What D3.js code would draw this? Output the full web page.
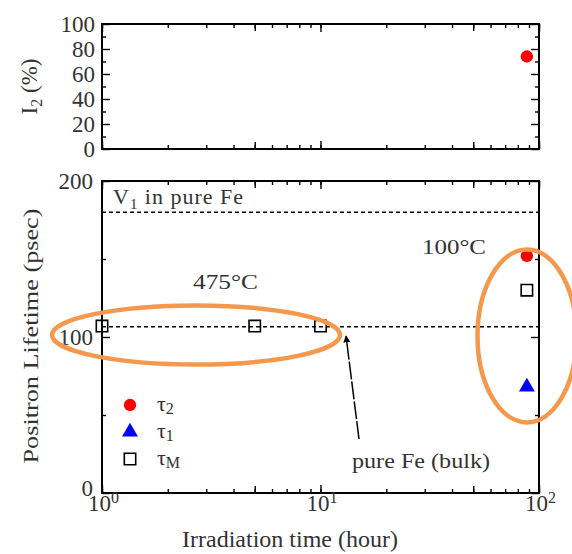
<!DOCTYPE html>
<html>
<head>
<meta charset="utf-8">
<script src="https://cdn.jsdelivr.net/npm/d3@7"></script>
<style>
  body { margin: 0; background: #fff; }
</style>
</head>
<body>
<div id="chart"></div>
<script>
// irradiation times (hour)
const times475 = [1, 5, 10];
const tauM475 = [107, 107, 107];
const times100 = [88];
const tau2_100 = [152];
const tau1_100 = [68];
const tauM100 = [130];
const I2_100 = [74];
// reference lines (psec)
const bulkFe = 106.5;
const v1Fe = 180;
const decades = [1, 10, 100];
const legendItems = ["tau2", "tau1", "tauM"];

const W = 572, H = 554;
const FONT = "Liberation Serif";
const svg = d3.select("#chart").append("svg")
  .attr("width", W).attr("height", H)
  .attr("font-family", FONT)
  .attr("fill", "#333");

const orange = "#f5984c";

// scales
const xTop = d3.scaleLog().domain([1, 100]).range([102, 539]);
const yTop = d3.scaleLinear().domain([0, 100]).range([149, 24]);
const xBot = d3.scaleLog().domain([1, 100]).range([102, 539]);
const yBot = d3.scaleLinear().domain([0, 200]).range([493, 181]);

// all log ticks 1..100
const minorVals = [];
for (let d = 1; d < 100; d *= 10)
  for (let k = 1; k <= 9; k++) minorVals.push(k * d);
minorVals.push(100);
const midVals = [5, 50];

function drawTicks(g, axisFn, scale, vals, len) {
  g.append("g").call(axisFn(scale).tickValues(vals).tickSize(-len).tickFormat(""))
    .call(s => s.select(".domain").remove())
    .selectAll("line").attr("stroke", "#000").attr("stroke-width", 1.4);
}

function frame(xs, ys, yMinor, yMajor) {
  const [x0, x1] = xs.range();
  const [y0, y1] = ys.range(); // y0 bottom, y1 top
  const g = svg.append("g");
  const gb = g.append("g").attr("transform", `translate(0,${y0})`);
  drawTicks(gb, d3.axisBottom, xs, minorVals, 4);
  drawTicks(gb, d3.axisBottom, xs, midVals, 7);
  drawTicks(gb, d3.axisBottom, xs, decades, 8);
  const gt = g.append("g").attr("transform", `translate(0,${y1})`);
  drawTicks(gt, d3.axisTop, xs, minorVals, 4);
  drawTicks(gt, d3.axisTop, xs, midVals, 7);
  drawTicks(gt, d3.axisTop, xs, decades, 8);
  const gl = g.append("g").attr("transform", `translate(${x0},0)`);
  drawTicks(gl, d3.axisLeft, ys, yMinor, 4);
  drawTicks(gl, d3.axisLeft, ys, yMajor, 8);
  const gr = g.append("g").attr("transform", `translate(${x1},0)`);
  drawTicks(gr, d3.axisRight, ys, yMinor, 4);
  drawTicks(gr, d3.axisRight, ys, yMajor, 8);
  g.append("rect")
    .attr("x", x0).attr("y", y1)
    .attr("width", x1 - x0).attr("height", y0 - y1)
    .attr("fill", "none").attr("stroke", "#000").attr("stroke-width", 2);
  return g;
}

function txt(x, y, size) {
  return svg.append("text").attr("x", x).attr("y", y)
    .attr("font-family", FONT).attr("font-size", size);
}

// ---------- top panel: I2 ----------
const topMajor = d3.range(0, 101, 20);
const topMinor = d3.range(10, 100, 20);
frame(xTop, yTop, topMinor, topMajor);

svg.append("g").selectAll("text")
  .data(topMajor).join("text")
  .attr("x", 95).attr("y", d => yTop(d))
  .attr("dy", "0.35em")
  .attr("text-anchor", "end")
  .attr("font-family", FONT)
  .attr("font-size", 23)
  .text(d => d);

const i2Label = svg.append("text")
  .attr("transform", `translate(37,${(yTop(0) + yTop(100)) / 2}) rotate(-90)`)
  .attr("text-anchor", "middle")
  .attr("font-family", FONT)
  .attr("font-size", 23);
i2Label.append("tspan").text("I");
i2Label.append("tspan").attr("dy", 5).attr("font-size", 16).text("2");
i2Label.append("tspan").attr("dy", -5).text(" (%)");

// ---------- bottom panel: lifetimes ----------
const botMajor = [0, 100, 200];
const botMinor = [50, 150];
frame(xBot, yBot, botMinor, botMajor);

// reference dashed lines
svg.append("g").selectAll("line")
  .data([bulkFe, v1Fe]).join("line")
  .attr("x1", xBot(1)).attr("x2", xBot(100))
  .attr("y1", d => yBot(d)).attr("y2", d => yBot(d))
  .attr("stroke", "#000").attr("stroke-width", 1.5)
  .attr("stroke-dasharray", "4,3");

svg.append("g").selectAll("text")
  .data(botMajor).join("text")
  .attr("x", 93).attr("y", d => yBot(d) - (d === 0 ? 5 : 0))
  .attr("dy", "0.35em")
  .attr("text-anchor", "end")
  .attr("font-family", FONT)
  .attr("font-size", 23)
  .text(d => d);

// x tick labels 10^n
const xl = svg.append("g").selectAll("text")
  .data(decades).join("text")
  .attr("x", d => xBot(d) - 14).attr("y", 511)
  .attr("font-family", FONT)
  .attr("font-size", 23);
xl.append("tspan").text("10");
xl.append("tspan").attr("dy", -8).attr("font-size", 16).text(d => Math.round(Math.log10(d)));

txt(290, 547, 23)
  .attr("text-anchor", "middle")
  .attr("textLength", 216).attr("lengthAdjust", "spacingAndGlyphs")
  .text("Irradiation time (hour)");

svg.append("text")
  .attr("transform", `translate(38,336) rotate(-90)`)
  .attr("text-anchor", "middle")
  .attr("textLength", 255).attr("lengthAdjust", "spacingAndGlyphs")
  .attr("font-family", FONT)
  .attr("font-size", 22)
  .text("Positron Lifetime (psec)");

// annotations
const v1 = txt(113, 204, 22)
  .attr("textLength", 130).attr("lengthAdjust", "spacing");
v1.append("tspan").text("V");
v1.append("tspan").attr("dy", 5).attr("font-size", 15).text("1");
v1.append("tspan").attr("dy", -5).text(" in pure Fe");

txt(193, 289, 22)
  .attr("textLength", 65).attr("lengthAdjust", "spacingAndGlyphs")
  .text("475°C");
txt(422, 254, 22)
  .attr("textLength", 64).attr("lengthAdjust", "spacingAndGlyphs")
  .text("100°C");
txt(352, 468, 21)
  .attr("textLength", 138).attr("lengthAdjust", "spacingAndGlyphs")
  .text("pure Fe (bulk)");

// arrow to bulk line
svg.append("defs").append("marker")
  .attr("id", "ah").attr("viewBox", "0 0 10 10")
  .attr("refX", 9).attr("refY", 5)
  .attr("markerWidth", 7).attr("markerHeight", 9)
  .attr("markerUnits", "userSpaceOnUse")
  .attr("orient", "auto")
  .append("path").attr("d", "M0,0L10,5L0,10Z").attr("fill", "#000");
svg.append("line")
  .attr("x1", 359).attr("y1", 439)
  .attr("x2", 346).attr("y2", 336)
  .attr("stroke", "#000").attr("stroke-width", 1.5)
  .attr("stroke-dasharray", "18,2")
  .attr("marker-end", "url(#ah)");

// markers
const sym = {
  tau2: d3.symbol(d3.symbolCircle, 120),
  tau1: d3.symbol(d3.symbolTriangle, 110),
  tauM: d3.symbol(d3.symbolSquare, 130)
};
function drawMark(kind, x, y) {
  const p = svg.append("path").attr("d", sym[kind]())
    .attr("transform", `translate(${x},${y})`);
  if (kind === "tau2") p.attr("fill", "#ff0000");
  else if (kind === "tau1") p.attr("fill", "#0000ff");
  else p.attr("fill", "none").attr("stroke", "#000").attr("stroke-width", 1.6);
}

I2_100.forEach((v, i) => drawMark("tau2", xTop(times100[i]), yTop(v)));
times475.forEach((t, i) => drawMark("tauM", xBot(t), yBot(tauM475[i])));
times100.forEach((t, i) => {
  drawMark("tau2", xBot(t), yBot(tau2_100[i]));
  drawMark("tauM", xBot(t), yBot(tauM100[i]));
  drawMark("tau1", xBot(t), yBot(tau1_100[i]));
});

// legend
const legSub = { tau2: "2", tau1: "1", tauM: "M" };
legendItems.forEach((k, i) => {
  const y = 405 + i * 27;
  drawMark(k, 130, y);
  const t = txt(157, y + 6, 22);
  t.append("tspan").text("τ");
  t.append("tspan").attr("dy", 3).attr("font-size", 16).text(legSub[k]);
});

// orange highlight ellipses
svg.append("ellipse")
  .attr("cx", 196).attr("cy", 335).attr("rx", 144).attr("ry", 29.5)
  .attr("fill", "none").attr("stroke", orange).attr("stroke-width", 4.5);
svg.append("ellipse")
  .attr("cx", 527).attr("cy", 336).attr("rx", 49.5).attr("ry", 86.5)
  .attr("fill", "none").attr("stroke", orange).attr("stroke-width", 4.5);
</script>
</body>
</html>
